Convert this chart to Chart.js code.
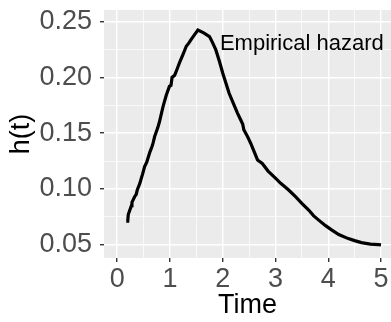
<!DOCTYPE html>
<html>
<head>
<meta charset="utf-8">
<script src="https://cdn.jsdelivr.net/npm/chart.js@4"></script>
<style>
html,body{margin:0;padding:0;background:#fff;}
#wrap{width:391px;height:322px;position:relative;}
</style>
</head>
<body>
<div id="wrap"><canvas id="c" width="391" height="322"></canvas></div>
<script>
const times = [0.17, 0.20, 0.21, 0.24, 0.27, 0.28, 0.33, 0.36, 0.38, 0.43, 0.46, 0.48, 0.52, 0.56, 0.58, 0.62, 0.66, 0.68, 0.71, 0.74, 0.77, 0.80, 0.87, 0.93, 0.99, 1.02, 1.04, 1.09, 1.14, 1.18, 1.25, 1.31, 1.36, 1.40, 1.46, 1.53, 1.64, 1.75, 1.81, 1.87, 1.94, 2.00, 2.06, 2.12, 2.20, 2.28, 2.34, 2.38, 2.40, 2.47, 2.50, 2.53, 2.60, 2.66, 2.75, 2.86, 2.97, 3.10, 3.25, 3.38, 3.50, 3.63, 3.72, 3.82, 3.95, 4.07, 4.20, 4.38, 4.50, 4.63, 4.80, 4.95, 5.00];
const hazard = [0.071, 0.071, 0.077, 0.081, 0.085, 0.088, 0.093, 0.095, 0.099, 0.105, 0.110, 0.113, 0.120, 0.124, 0.127, 0.133, 0.138, 0.141, 0.147, 0.151, 0.155, 0.160, 0.174, 0.184, 0.192, 0.193, 0.200, 0.202, 0.208, 0.213, 0.221, 0.228, 0.231, 0.234, 0.238, 0.2425, 0.240, 0.2367, 0.231, 0.2247, 0.214, 0.204, 0.195, 0.186, 0.177, 0.168, 0.162, 0.158, 0.153, 0.147, 0.144, 0.141, 0.133, 0.126, 0.1228, 0.116, 0.111, 0.105, 0.099, 0.093, 0.087, 0.081, 0.076, 0.072, 0.067, 0.063, 0.059, 0.0554, 0.0536, 0.0518, 0.0505, 0.050, 0.0497];
const xTicks = [0, 0.5, 1, 1.5, 2, 2.5, 3, 3.5, 4, 4.5, 5];
const yTicks = [0.05, 0.075, 0.10, 0.125, 0.15, 0.175, 0.20, 0.225, 0.25];
const xMajor = [0, 1, 2, 3, 4, 5];
const yMajor = [0.05, 0.10, 0.15, 0.20, 0.25];
const yLabels = ['0.05', '0.10', '0.15', '0.20', '0.25'];
const annotationText = 'Empirical hazard';
const annotationPos = [3.5, 0.23];

const FONT = "'Liberation Sans', Arial, Helvetica, sans-serif";
const isMajor = (arr, v) => arr.some(m => Math.abs(m - v) < 1e-9);

const panelBg = {
  id: 'panelBg',
  beforeDraw(chart) {
    const {ctx, chartArea: a} = chart;
    ctx.save();
    ctx.fillStyle = '#EBEBEB';
    ctx.fillRect(a.left, a.top, a.right - a.left, a.bottom - a.top);
    ctx.restore();
  }
};
const annot = {
  id: 'annot',
  afterDatasetsDraw(chart) {
    const {ctx, scales} = chart;
    const px = scales.x.getPixelForValue(annotationPos[0]);
    const py = scales.y.getPixelForValue(annotationPos[1]);
    ctx.save();
    ctx.font = '22px ' + FONT;
    ctx.fillStyle = '#000000';
    ctx.textAlign = 'center';
    ctx.textBaseline = 'middle';
    ctx.fillText(annotationText, px, py);
    ctx.restore();
  }
};

new Chart(document.getElementById('c'), {
  type: 'line',
  data: {
    datasets: [{
      data: times.map((t, i) => ({x: t, y: hazard[i]})),
      borderColor: '#000000',
      borderWidth: 3.2,
      pointRadius: 0,
      tension: 0,
      fill: false
    }]
  },
  options: {
    responsive: false,
    animation: false,
    devicePixelRatio: 1,
    layout: {padding: {top: 10, right: 0, left: 0, bottom: 0}},
    plugins: {legend: {display: false}, tooltip: {enabled: false}},
    scales: {
      x: {
        type: 'linear',
        min: -0.25,
        max: 5.19,
        afterBuildTicks(s) { s.ticks = xTicks.map(v => ({value: v})); },
        afterFit(s) { s.height = 64; s.paddingLeft = 0; s.paddingRight = 0; },
        border: {display: false},
        grid: {
          color: '#FFFFFF',
          lineWidth: c => isMajor(xMajor, c.tick.value) ? 1.4 : 0.7,
          tickColor: c => isMajor(xMajor, c.tick.value) ? '#333333' : 'rgba(0,0,0,0)',
          tickLength: 4,
          tickWidth: 1.4
        },
        ticks: {
          autoSkip: false,
          maxRotation: 0,
          padding: 1,
          color: '#4D4D4D',
          font: {family: FONT, size: 27},
          callback: v => isMajor(xMajor, v) ? String(v) : ''
        },
        title: {
          display: true,
          text: 'Time',
          color: '#000000',
          font: {family: FONT, size: 27},
          padding: {top: 0, bottom: 0}
        }
      },
      y: {
        type: 'linear',
        min: 0.038,
        max: 0.2605,
        afterBuildTicks(s) { s.ticks = yTicks.map(v => ({value: v})); },
        afterFit(s) { s.width = 104; s.paddingTop = 0; s.paddingBottom = 0; },
        border: {display: false},
        grid: {
          color: '#FFFFFF',
          lineWidth: c => isMajor(yMajor, c.tick.value) ? 1.4 : 0.7,
          tickColor: c => isMajor(yMajor, c.tick.value) ? '#333333' : 'rgba(0,0,0,0)',
          tickLength: 4,
          tickWidth: 1.4
        },
        ticks: {
          autoSkip: false,
          padding: 8,
          color: '#4D4D4D',
          font: {family: FONT, size: 27},
          callback: v => { const i = yMajor.findIndex(m => Math.abs(m - v) < 1e-9); return i >= 0 ? yLabels[i] : ''; }
        },
        title: {
          display: true,
          text: 'h(t)',
          color: '#000000',
          font: {family: FONT, size: 27},
          padding: {top: 5, bottom: 0}
        }
      }
    }
  },
  plugins: [panelBg, annot]
});
</script>
</body>
</html>
